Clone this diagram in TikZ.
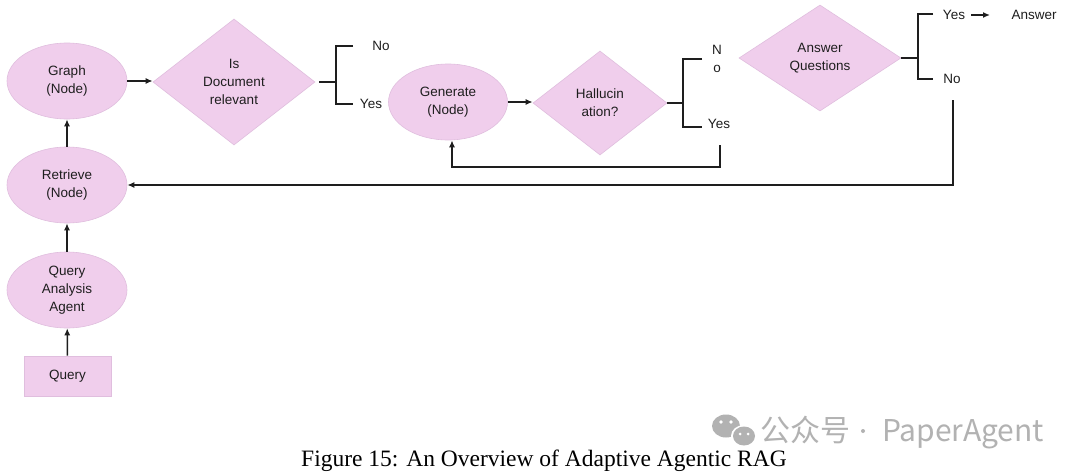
\documentclass[tikz,border=0pt]{standalone}
\usepackage{fontspec}
\setmainfont{Liberation Sans}
\newfontfamily\capfont{Liberation Serif}
\newfontfamily\cjkfont{Noto Sans CJK SC}
\usetikzlibrary{shapes.geometric,arrows.meta}
\definecolor{pinkfill}{RGB}{240,206,236}
\definecolor{pinkedge}{RGB}{224,190,222}
\definecolor{ink}{RGB}{30,30,30}
\definecolor{wm}{RGB}{178,178,178}
\begin{document}
\begin{tikzpicture}[x=1pt,y=-1pt,
  txt/.style={font=\fontsize{13.5}{18}\selectfont, text=ink, align=center, inner sep=0pt},
  oval/.style={ellipse, draw=pinkedge, fill=pinkfill, line width=0.6pt,
    minimum width=120pt, minimum height=76pt, txt},
  dia/.style={diamond, draw=pinkedge, fill=pinkfill, line width=0.6pt, txt},
  box/.style={rectangle, draw=pinkedge, fill=pinkfill, line width=0.8pt,
    minimum width=87pt, minimum height=40pt, txt},
  wire/.style={draw=ink, line width=1.5pt},
  arr/.style={wire, -{Latex[length=7pt,width=6pt]}},
  wmtext/.style={font=\cjkfont\fontsize{30}{34}\selectfont, text=wm, anchor=base west, inner sep=0pt}]
\useasboundingbox (0,0) rectangle (1080,474);
\fill[white] (0,0) rectangle (1080,474);

% left column
\node[oval] (graph) at (67,81) {Graph\\(Node)};
\node[oval] (retr) at (67,185) {Retrieve\\(Node)};
\node[oval] (qaa) at (67,290) {Query\\Analysis\\Agent};
\node[box] (query) at (67.5,376) {Query};

\draw[arr] (query) -- (qaa);
\draw[arr] (qaa) -- (retr);
\draw[arr] (retr) -- (graph);

% Is document relevant
\node[dia, minimum width=162pt, minimum height=126pt] (rel) at (234,82) {Is\\Document\\relevant};
\draw[arr] (graph.east) -- (graph.east -| rel.west);

\coordinate (b1s) at (319,82);
\coordinate (b1) at (336,82);
\coordinate (b1no) at (353,46);
\coordinate (b1yes) at (353,104);
\draw[wire] (b1s) -- (b1);
\draw[wire] (b1no) -| (b1 |- b1yes) -- (b1yes);
\node[txt] (no1) at (381,46) {No};
\node[txt] (yes1) at (371,104) {Yes};

% Generate
\node[oval, minimum width=119pt, minimum height=76pt] (gen) at (448,102) {Generate\\(Node)};
\node[dia, minimum width=134pt, minimum height=104pt] (hal) at (600,103) {Hallucin\\ation?};
\draw[arr] (gen.east) -- (gen.east -| hal.west);

\coordinate (b2) at (683,103);
\coordinate (b2no) at (702,59);
\coordinate (b2yes) at (702,127);
\draw[wire] (hal.east) -- (b2);
\draw[wire] (b2no) -| (b2 |- b2yes) -- (b2yes);
\node[txt] (no2) at (717,59) {N\\o};
\node[txt] (yes2) at (719,124) {Yes};

\coordinate (l2a) at (720,145);
\coordinate (l2b) at (452,167);
\draw[arr] (l2a) |- (l2b) -- (gen.south -| l2b);

% Answer questions
\node[dia, minimum width=162pt, minimum height=106pt] (ans) at (820,58) {Answer\\Questions};
\coordinate (b3) at (918,58);
\coordinate (b3yes) at (933,14);
\coordinate (b3no) at (933,79);
\draw[wire] (ans.east) -- (b3);
\draw[wire] (b3yes) -| (b3 |- b3no) -- (b3no);
\node[txt] (yes3) at (954,15) {Yes};
\node[txt] (answer) at (1034,15) {Answer};
\coordinate (a3s) at (971,15);
\coordinate (a3e) at (990,15);
\draw[arr] (a3s) -- (a3e);
\node[txt] (no3) at (952,79) {No};

\coordinate (l3a) at (953,100);
\draw[arr] (l3a) |- (retr.east);

% caption
\node[font=\capfont\fontsize{23.5}{28}\selectfont, anchor=base, inner sep=0pt] (cap) at (544,466)
  {Figure 15: An Overview of Adaptive Agentic RAG};

% watermark
\fill[wm] (726,426) ellipse (14pt and 11.5pt);
\fill[white] (744,436) ellipse (13pt and 11pt);
\fill[wm] (744,436) ellipse (11pt and 9.5pt);
\fill[white] (721,422) circle (1.8pt) (731,422) circle (1.8pt) (740,434) circle (1.5pt) (748,434) circle (1.5pt);
\node[wmtext] (wm1) at (760,441) {公众号};
\fill[wm] (863,431) circle (2pt);
\node[wmtext] (wm2) at (882,441) {PaperAgent};
\end{tikzpicture}
\end{document}
